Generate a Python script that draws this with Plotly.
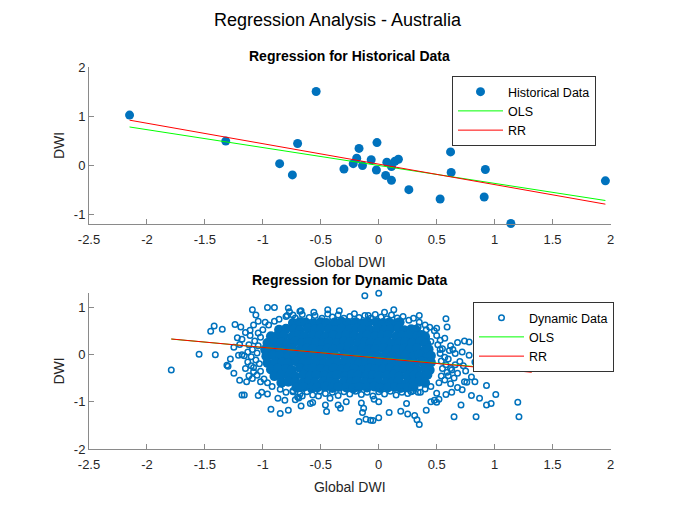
import plotly.graph_objects as go

# ---------------- data ----------------
hist_x = [-2.15, -1.32, -0.54, -0.70, -0.855, -0.745, -0.30, -0.22, -0.19, -0.17,
          -0.14, -0.065, -0.015, -0.02, 0.06, 0.07, 0.11, 0.11, 0.14, 0.17,
          0.26, 0.53, 0.62, 0.625, 0.92, 0.91, 1.14, 1.956]
hist_y = [1.02, 0.49, 1.50, 0.44, 0.03, -0.20, -0.08, 0.03, 0.14, 0.34,
          -0.01, 0.11, 0.46, -0.10, -0.21, 0.06, -0.03, -0.31, 0.08, 0.12,
          -0.50, -0.69, 0.27, -0.15, -0.09, -0.65, -1.19, -0.32]

# regression coefficients (slope, intercept)
hist_ols = (-0.365, -0.007)
hist_rr = (-0.417, 0.02)
dyn_ols = (-0.222, -0.075)
dyn_rr = (-0.226, -0.080)

# dense core of the dynamic cloud (overlapping markers)
core_x = [
    -0.74, -0.68, -0.63, -0.56, -0.50, -0.45, -0.38, -0.32, -0.27, -0.20, -0.14, -0.09, -0.02, 0.04, 0.09, 0.15, 0.18,
    -0.86, -0.80, -0.73, -0.68, -0.61, -0.55, -0.50, -0.43, -0.37, -0.32, -0.25, -0.19, -0.14, -0.07, -0.01, 0.05, 0.10, 0.17, 0.22, 0.28, 0.32,
    -0.93, -0.87, -0.82, -0.75, -0.69, -0.64, -0.57, -0.51, -0.46, -0.39, -0.33, -0.28, -0.21, -0.15, -0.10, -0.03, 0.03, 0.08, 0.15, 0.20, 0.26, 0.33, 0.37, 0.40,
    -0.96, -0.90, -0.84, -0.79, -0.72, -0.66, -0.61, -0.54, -0.48, -0.43, -0.36, -0.30, -0.25, -0.18, -0.12, -0.07, 0.00, 0.06, 0.11, 0.18, 0.23, 0.29, 0.36, 0.41,
    -0.98, -0.93, -0.86, -0.80, -0.75, -0.68, -0.62, -0.57, -0.50, -0.44, -0.39, -0.32, -0.26, -0.21, -0.14, -0.08, -0.03, 0.04, 0.10, 0.15, 0.22, 0.27, 0.33, 0.40, 0.43,
    -0.97, -0.91, -0.85, -0.78, -0.73, -0.66, -0.61, -0.54, -0.49, -0.42, -0.37, -0.30, -0.25, -0.18, -0.13, -0.06, -0.01, 0.06, 0.11, 0.18, 0.23, 0.30, 0.35, 0.42, 0.45,
    -0.96, -0.89, -0.83, -0.78, -0.71, -0.65, -0.60, -0.53, -0.47, -0.42, -0.35, -0.29, -0.24, -0.17, -0.11, -0.06, 0.01, 0.07, 0.12, 0.19, 0.25, 0.30, 0.37, 0.43, 0.45,
    -0.93, -0.87, -0.80, -0.75, -0.68, -0.62, -0.57, -0.50, -0.44, -0.39, -0.32, -0.26, -0.21, -0.14, -0.08, -0.03, 0.04, 0.10, 0.15, 0.22, 0.28, 0.33, 0.40, 0.44,
    -0.90, -0.84, -0.77, -0.72, -0.65, -0.59, -0.54, -0.47, -0.41, -0.36, -0.29, -0.23, -0.18, -0.11, -0.05, 0.00, 0.07, 0.13, 0.18, 0.25, 0.31, 0.36, 0.42,
    -0.84, -0.78, -0.72, -0.66, -0.60, -0.55, -0.48, -0.42, -0.37, -0.30, -0.24, -0.19, -0.12, -0.06, -0.01, 0.06, 0.12, 0.17, 0.24, 0.30, 0.35, 0.40,
    -0.71, -0.65, -0.58, -0.53, -0.46, -0.40, -0.35, -0.28, -0.22, -0.17, -0.10, -0.04, 0.01, 0.08, 0.14, 0.19, 0.25, 0.30,
]
core_y = [
    0.66, 0.68, 0.67, 0.65, 0.68, 0.66, 0.67, 0.69, 0.66, 0.68, 0.65, 0.67, 0.68, 0.66, 0.67, 0.65, 0.68,
    0.52, 0.54, 0.53, 0.51, 0.55, 0.52, 0.54, 0.53, 0.51, 0.54, 0.52, 0.55, 0.53, 0.51, 0.54, 0.52, 0.53, 0.55, 0.51, 0.53, 0.52,
    0.38, 0.40, 0.39, 0.37, 0.41, 0.38, 0.40, 0.39, 0.37, 0.40, 0.38, 0.41, 0.39, 0.37, 0.40, 0.38, 0.39, 0.41, 0.37, 0.39, 0.40, 0.38, 0.41, 0.37,
    0.24, 0.26, 0.25, 0.23, 0.27, 0.24, 0.26, 0.25, 0.23, 0.26, 0.24, 0.27, 0.25, 0.23, 0.26, 0.24, 0.25, 0.27, 0.23, 0.25, 0.26, 0.24, 0.27, 0.23,
    0.10, 0.12, 0.11, 0.09, 0.13, 0.10, 0.12, 0.11, 0.09, 0.12, 0.10, 0.13, 0.11, 0.09, 0.12, 0.10, 0.11, 0.13, 0.09, 0.11, 0.12, 0.10, 0.13, 0.09, 0.11,
    -0.04, -0.02, -0.03, -0.05, -0.01, -0.04, -0.02, -0.03, -0.05, -0.02, -0.04, -0.01, -0.03, -0.05, -0.02, -0.04, -0.03, -0.01, -0.05, -0.03, -0.02, -0.04, -0.01, -0.05, -0.03,
    -0.18, -0.16, -0.17, -0.19, -0.15, -0.18, -0.16, -0.17, -0.19, -0.16, -0.18, -0.15, -0.17, -0.19, -0.16, -0.18, -0.17, -0.15, -0.19, -0.17, -0.16, -0.18, -0.15, -0.19, -0.17,
    -0.32, -0.30, -0.31, -0.33, -0.29, -0.32, -0.30, -0.31, -0.33, -0.30, -0.32, -0.29, -0.31, -0.33, -0.30, -0.32, -0.31, -0.29, -0.33, -0.31, -0.30, -0.32, -0.29, -0.33,
    -0.46, -0.44, -0.45, -0.47, -0.43, -0.46, -0.44, -0.45, -0.47, -0.44, -0.46, -0.43, -0.45, -0.47, -0.44, -0.46, -0.45, -0.43, -0.47, -0.45, -0.44, -0.46, -0.43,
    -0.60, -0.58, -0.59, -0.61, -0.57, -0.60, -0.58, -0.59, -0.61, -0.58, -0.60, -0.57, -0.59, -0.61, -0.58, -0.60, -0.59, -0.57, -0.61, -0.59, -0.58, -0.60,
    -0.70, -0.69, -0.71, -0.70, -0.68, -0.71, -0.69, -0.70, -0.72, -0.69, -0.70, -0.68, -0.71, -0.70, -0.69, -0.71, -0.70, -0.69,
]

# scattered points of the dynamic cloud (fringe and outliers)
dyn_x = [
    # top fringe
    -0.86, -0.80, -0.72, -0.66, -0.60, -0.55, -0.49, -0.44, -0.40, -0.35, -0.30, -0.25, -0.21, -0.17,
    -0.12, -0.07, -0.03, 0.02, 0.07, 0.11, 0.16, 0.21, 0.26, 0.30, 0.35, 0.40, 0.44, 0.48,
    # left fringe
    -0.95, -1.00, -1.04, -1.02, -1.07, -1.04, -1.09, -1.05, -1.10, -1.06, -1.03, -1.08, -1.02, -1.05,
    -0.99, -0.96, -0.92, -1.12, -1.13, -1.11, -0.90,
    # bottom fringe
    -0.85, -0.80, -0.74, -0.68, -0.62, -0.57, -0.51, -0.46, -0.40, -0.35, -0.30, -0.25, -0.20, -0.15,
    -0.10, -0.05, 0.00, 0.05, 0.10, 0.15, 0.20, 0.25, 0.30, 0.36, 0.40, 0.45,
    # right fringe
    0.50, 0.53, 0.51, 0.55, 0.53, 0.57, 0.54, 0.58, 0.55, 0.59, 0.54, 0.57, 0.52, 0.60, 0.62, 0.61,
    # left outliers
    -1.79, -1.55, -1.41, -1.31, -1.30, -1.45, -1.42, -1.35, -1.24, -1.19, -1.11, -1.18, -1.20, -1.21,
    -1.18, -1.16, -1.15, -1.09, -1.14, -1.18, -1.16, -1.04, -1.01, -0.96, -0.93, -0.85, -0.78, -0.87,
    -0.81, -1.09, -1.06, -0.96, -0.90, -0.78, -0.77, -0.68, -0.79, -0.74, -0.98, -1.10, -1.08, -1.02,
    -0.70, -0.72, -1.25, -1.22, -1.28, -1.25, -1.20, -1.13, -1.12, -1.15, -1.08, -1.04,
    # middle top outliers
    -0.12, 0.00, -0.67, -0.56, -0.44, -0.34, 0.05, 0.13, 0.35, -0.09, 0.50, 0.41, 0.34, 0.45,
    # middle bottom outliers
    -0.74, -0.69, -0.66, -0.59, -0.57, -0.67, -0.45, -0.52, -0.46, -0.35, -0.33, -0.42, -0.28, -0.15,
    -0.13, -0.14, -0.17, -0.11, -0.07, -0.05, 0.00, -0.04, 0.00, 0.09, 0.19, 0.24, 0.28, 0.25,
    0.31, 0.33, 0.35, 0.45, 0.48, 0.50, 0.41, 0.34,
    # right outliers
    0.58, 0.59, 0.57, 0.74, 0.78, 0.66, 0.78, 0.83, 1.14, 1.06, 0.93, 1.01, 0.97, 0.93,
    1.20, 1.21, 0.84, 0.65, 0.71, 0.80, 0.87, 0.74, 0.76, 0.83, 0.80, 0.63, 0.58, 0.52,
    0.50, 0.63, 0.73, 0.62, 0.53, 0.60, 0.65, 0.68, 0.70, 0.66, 0.64, 0.68, 0.72, 0.75,
    0.62, 0.68, 0.72, 1.32,
]
dyn_y = [
    # top fringe
    0.74, 0.80, 0.77, 0.84, 0.78, 0.82, 0.76, 0.85, 0.79, 0.83, 0.76, 0.80, 0.86, 0.78,
    0.82, 0.76, 0.84, 0.79, 0.75, 0.83, 0.77, 0.80, 0.72, 0.76, 0.68, 0.62, 0.57, 0.50,
    # left fringe
    0.62, 0.52, 0.45, 0.36, 0.28, 0.18, 0.10, 0.03, -0.05, -0.12, -0.20, -0.28, -0.36, -0.44,
    -0.52, -0.60, -0.68, 0.20, -0.16, 0.40, 0.70,
    # bottom fringe
    -0.74, -0.80, -0.77, -0.84, -0.79, -0.86, -0.78, -0.83, -0.80, -0.87, -0.79, -0.84, -0.78, -0.85,
    -0.80, -0.88, -0.79, -0.84, -0.78, -0.86, -0.80, -0.83, -0.77, -0.80, -0.73, -0.68,
    # right fringe
    0.40, 0.30, 0.20, 0.12, 0.02, -0.06, -0.14, -0.22, -0.30, -0.38, -0.46, -0.54, -0.60, -0.10, -0.30, 0.08,
    # left outliers
    -0.33, 0.00, -0.01, -0.23, -0.25, 0.49, 0.60, 0.53, 0.63, 0.58, 0.51, 0.32, 0.21, -0.02,
    -0.01, -0.03, -0.30, -0.51, -0.58, -0.86, -0.86, -0.87, -0.80, -0.84, -1.16, -1.25, -1.18, -0.93,
    -0.97, 0.94, 0.83, 0.99, 0.99, 0.98, 0.90, 0.91, 0.82, 0.83, 0.68, -0.24, -0.37, -0.58,
    -0.90, -0.96, 0.15, 0.35, -0.10, -0.40, -0.55, 0.05, -0.45, 0.46, 0.62, 0.70,
    # middle top outliers
    1.24, 1.29, 0.92, 0.89, 0.94, 0.92, 0.89, 0.94, 0.82, 0.82, 0.55, 0.52, 0.58, 0.27,
    # middle bottom outliers
    -0.79, -0.92, -0.88, -1.04, -1.02, -1.09, -1.21, -0.88, -1.07, -1.07, -1.14, -0.93, -1.00, -1.03,
    -1.14, -1.23, -1.42, -1.37, -1.39, -1.40, -1.34, -0.95, -1.00, -1.23, -1.20, -1.04, -0.79, -1.26,
    -1.29, -1.38, -1.48, -1.00, -0.97, -1.01, -1.18, -0.80,
    # right outliers
    0.75, 0.58, 0.34, 0.28, 0.26, 0.02, -0.02, -0.16, -0.18, -0.07, -0.66, -0.85, -1.04, -1.07,
    -1.01, -1.32, -1.32, -1.32, -1.07, -0.87, -0.93, -0.58, -0.59, -0.58, -0.48, -0.80, -0.85, -0.95,
    -0.82, -0.33, -0.24, 0.18, 0.10, -0.45, -0.50, -0.40, -0.15, -0.22, 0.10, 0.25, 0.05, -0.35,
    -0.62, -0.70, -0.75, 0.15,
]

x_tick_vals = [-2.5, -2, -1.5, -1, -0.5, 0, 0.5, 1, 1.5, 2]
x_tick_text = ["-2.5", "-2", "-1.5", "-1", "-0.5", "0", "0.5", "1", "1.5", "2"]
y1_tick_vals = [-1, 0, 1, 2]
y1_tick_text = ["-1", "0", "1", "2"]
y2_tick_vals = [-2, -1, 0, 1]
y2_tick_text = ["-2", "-1", "0", "1"]

# ---------------- figure ----------------
BLUE = "#0072BD"
FONT = "Liberation Sans, Arial, sans-serif"
AX = "#8a8a8a"
TXT = "#262626"

def line_pts(xs, coef):
    lo, hi = min(xs), max(xs)
    return [lo, hi], [coef[0] * lo + coef[1], coef[0] * hi + coef[1]]

fig = go.Figure()

fig.add_trace(go.Scatter(x=hist_x, y=hist_y, mode="markers", name="Historical Data",
                         marker=dict(color=BLUE, size=9, symbol="circle"),
                         xaxis="x", yaxis="y", legend="legend", cliponaxis=False))
lx, ly = line_pts(hist_x, hist_ols)
fig.add_trace(go.Scatter(x=lx, y=ly, mode="lines", name="OLS", line=dict(color="#00ff00", width=1),
                         xaxis="x", yaxis="y", legend="legend"))
lx, ly = line_pts(hist_x, hist_rr)
fig.add_trace(go.Scatter(x=lx, y=ly, mode="lines", name="RR", line=dict(color="#ff0000", width=1),
                         xaxis="x", yaxis="y", legend="legend"))

all_dyn_x = core_x + dyn_x
fig.add_trace(go.Scatter(x=core_x, y=core_y, mode="markers", name="Dynamic Data", showlegend=False,
                         marker=dict(color=BLUE, size=10, symbol="circle"),
                         xaxis="x2", yaxis="y2", legend="legend2"))
fig.add_trace(go.Scatter(x=dyn_x, y=dyn_y, mode="markers", name="Dynamic Data",
                         marker=dict(color=BLUE, size=5.5, symbol="circle-open", line=dict(width=1.5, color=BLUE)),
                         xaxis="x2", yaxis="y2", legend="legend2", cliponaxis=False))
lx, ly = line_pts(all_dyn_x, dyn_ols)
fig.add_trace(go.Scatter(x=lx, y=ly, mode="lines", name="OLS", line=dict(color="#00ff00", width=1),
                         xaxis="x2", yaxis="y2", legend="legend2"))
lx, ly = line_pts(all_dyn_x, dyn_rr)
fig.add_trace(go.Scatter(x=lx, y=ly, mode="lines", name="RR", line=dict(color="#ff0000", width=1),
                         xaxis="x2", yaxis="y2", legend="legend2"))

# the page body adds an 8px margin; positions below are in screen pixels
OFF = 8
W, H = 667, 498

def px(v):
    return (v - OFF) / W

def py(v):
    return 1 - (v - OFF) / H

xdom = [px(89), px(610.5)]
common_x = dict(domain=xdom, range=[-2.5, 2], tickvals=x_tick_vals, ticktext=x_tick_text, automargin=False,
                ticks="inside", ticklen=5, tickcolor=AX, showline=True, linecolor=AX, linewidth=1,
                showgrid=False, zeroline=False, tickfont=dict(size=13, color=TXT, family=FONT),
                ticklabelstandoff=3,
                title=dict(text="Global DWI", font=dict(size=14, color=TXT, family=FONT), standoff=11))
common_y = dict(ticks="inside", ticklen=5, tickcolor=AX, showline=True, linecolor=AX, linewidth=1, automargin=False,
                showgrid=False, zeroline=False, tickfont=dict(size=13, color=TXT, family=FONT),
                title=dict(text="DWI", font=dict(size=14, color=TXT, family=FONT), standoff=5))

legend_common = dict(xanchor="left", yanchor="top", bgcolor="white", bordercolor="#333333",
                     borderwidth=1, itemwidth=45, font=dict(size=12.5, color="black", family=FONT))

fig.update_layout(
    width=W, height=H, autosize=False,
    margin=dict(l=0, r=0, t=0, b=0, autoexpand=False),
    paper_bgcolor="white", plot_bgcolor="white",
    font=dict(family=FONT, color=TXT),
    title=dict(text="Regression Analysis - Australia", x=px(337.5), xanchor="center",
               y=py(20), yanchor="middle", font=dict(size=18, color="black", family=FONT)),
    xaxis=dict(anchor="y", **common_x),
    yaxis=dict(anchor="x", domain=[py(224), py(67)], range=[-1.2, 2],
               tickvals=y1_tick_vals, ticktext=y1_tick_text, **common_y),
    xaxis2=dict(anchor="y2", **common_x),
    yaxis2=dict(anchor="x2", domain=[py(449), py(292.8)], range=[-2, 1.3],
                tickvals=y2_tick_vals, ticktext=y2_tick_text, **common_y),
    legend=dict(x=px(452), y=py(76), **legend_common),
    legend2=dict(x=px(473), y=py(302), **legend_common),
    annotations=[
        dict(text="<b>Regression for Historical Data</b>", x=px((89 + 610.5) / 2), y=py(56),
             xref="paper", yref="paper", showarrow=False, xanchor="center", yanchor="middle",
             font=dict(size=14, color="black", family=FONT)),
        dict(text="<b>Regression for Dynamic Data</b>", x=px((89 + 610.5) / 2), y=py(280),
             xref="paper", yref="paper", showarrow=False, xanchor="center", yanchor="middle",
             font=dict(size=14, color="black", family=FONT)),
    ],
)

fig.write_html("out.html")
